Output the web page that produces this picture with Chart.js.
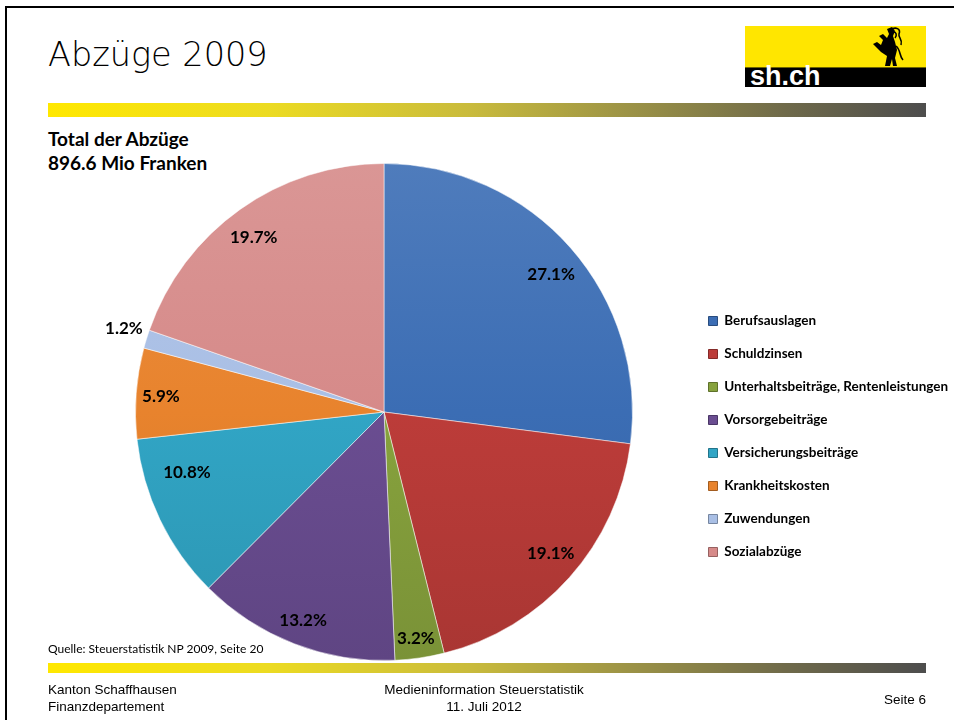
<!DOCTYPE html>
<html>
<head>
<meta charset="utf-8">
<script src="https://cdn.jsdelivr.net/npm/chart.js@4.4.1/dist/chart.umd.min.js"></script>
<style>
  body { margin: 0; width: 954px; height: 720px; position: relative; overflow: hidden; background: #fff; font-family: Lato, sans-serif; }
  #frame { position: absolute; left: 5px; top: 6px; width: 980px; height: 740px; border-top: 2px solid #000; border-left: 2px solid #000; }
  #chart { position: absolute; left: 0; top: 0; }
  .bar { position: absolute; left: 48px; width: 878px; background: linear-gradient(to right, #ffe800 0%, #ecdb22 25%, #c9bb3c 48%, #9c9346 66%, #6f6a4a 84%, #4d4d4d 100%); }
  #title { position: absolute; left: 48px; top: 38px; font: 300 33.5px/34px "DejaVu Sans", sans-serif; color: #000; }
  #logo { position: absolute; left: 745px; top: 26px; width: 181px; height: 61px; background: #ffe600; overflow: hidden; }
  #logo .band { position: absolute; left: 0; top: 41px; width: 181px; height: 20px; background: #000; border-top: 1px solid #6e6400; }
  #logo .txt { position: absolute; left: 5px; top: 36px; font: bold 27px/28px "Liberation Sans", Arial, sans-serif; color: #fff; }
  #logo svg { position: absolute; left: 118px; top: 0; }
  #total { position: absolute; left: 48px; top: 127px; font: bold 19px/24px Lato, sans-serif; color: #000; }
  #source { position: absolute; left: 48px; top: 642px; font: 12px/14px Lato, sans-serif; color: #000; }
  .foot { position: absolute; font: 13.5px/17px "Liberation Sans Narrow", "Liberation Sans", sans-serif; color: #000; }
</style>
</head>
<body>
<div id="frame"></div>
<div id="title">Abzüge 2009</div>
<div id="logo">
  <svg width="50" height="42" viewBox="0 0 50 42">
    <path d="M22 40 L24 30 L18 26 L14 22 L10 18 L14 16 L18 19 L20 14 L16 10 L20 8 L24 12 L26 8 L24 3 L29 1 L32 5 L30 10 L32 16 L34 24 L32 32 L34 40 L30 40 L29 33 L27 40 Z" fill="#000"/>
    <path d="M27 4 C33 0 38 3 36 8 C35 12 40 13 38 19 M29 6 C34 5 34 10 32 12 M33 20 C38 24 36 30 40 34" stroke="#000" stroke-width="1.6" fill="none"/>
  </svg>
  <div class="band"></div>
  <div class="txt">sh.ch</div>
</div>
<div class="bar" style="top:103px;height:14px"></div>
<div id="total">Total der Abzüge<br>896.6 Mio Franken</div>
<canvas id="chart" width="954" height="720"></canvas>
<div id="source">Quelle: Steuerstatistik NP 2009, Seite 20</div>
<div class="bar" style="top:663px;height:10px"></div>
<div class="foot" style="left:48px;top:681px">Kanton Schaffhausen<br>Finanzdepartement</div>
<div class="foot" style="left:334px;top:681px;width:300px;text-align:center">Medieninformation Steuerstatistik<br>11. Juli 2012</div>
<div class="foot" style="right:28px;top:691px">Seite 6</div>

<script>
// Abzüge 2009, shares in percent of 896.6 Mio Franken
const categories = [
  'Berufsauslagen',
  'Schuldzinsen',
  'Unterhaltsbeiträge, Rentenleistungen',
  'Vorsorgebeiträge',
  'Versicherungsbeiträge',
  'Krankheitskosten',
  'Zuwendungen',
  'Sozialabzüge'
];
const shares = [27.1, 19.1, 3.2, 13.2, 10.8, 5.9, 1.2, 19.7];

const sliceColors = ['#3b6db4', '#bc3c39', '#87a23d', '#6a4d91', '#31a5c5', '#e8832d', '#a9bfe5', '#d68a89'];

// where each percent label sits: fraction along the slice angle, fraction of the radius
const labelAngle = [0.52, 0.48, 0.52, 0.5, 0.72, 0.48, 0.69, 0.48];
const labelRadius = [0.87, 0.88, 0.92, 0.9, 0.83, 0.9, 1.1, 0.875];

function mix(hex, target, amt) {
  const n = parseInt(hex.slice(1), 16);
  const c = [(n >> 16) & 255, (n >> 8) & 255, n & 255].map(v => Math.round(v + (target - v) * amt));
  return 'rgb(' + c.join(',') + ')';
}

function sliceFill(c) {
  const base = sliceColors[c.dataIndex];
  const area = c.chart.chartArea;
  if (!area) return base;
  const cy = (area.top + area.bottom) / 2;
  const r = Math.min(area.width, area.height) / 2;
  const g = c.chart.ctx.createLinearGradient(0, cy - r, 0, cy + r);
  g.addColorStop(0, mix(base, 255, 0.1));
  g.addColorStop(0.5, base);
  g.addColorStop(1, mix(base, 0, 0.1));
  return g;
}

const pctLabels = {
  id: 'pctLabels',
  afterDatasetsDraw(chart) {
    const ctx = chart.ctx;
    const meta = chart.getDatasetMeta(0);
    ctx.save();
    ctx.font = 'bold 17px Lato, sans-serif';
    ctx.fillStyle = '#000';
    ctx.textAlign = 'center';
    ctx.textBaseline = 'middle';
    meta.data.forEach((arc, i) => {
      const p = arc.getProps(['x', 'y', 'startAngle', 'endAngle', 'outerRadius'], true);
      const a = p.startAngle + (p.endAngle - p.startAngle) * labelAngle[i];
      const r = p.outerRadius * labelRadius[i];
      ctx.fillText(shares[i].toFixed(1) + '%', p.x + Math.cos(a) * r, p.y + Math.sin(a) * r);
    });
    ctx.restore();
  }
};

// keep the legend column a fixed width so the pie stays where the slide has it
const legendWidth = {
  id: 'legendWidth',
  beforeLayout(chart) {
    const legend = chart.legend;
    if (!legend || legend._fixed) return;
    const fit = legend.fit;
    legend.fit = function () {
      fit.call(this);
      this.width = 265;
    };
    legend._fixed = true;
  }
};

const chart = new Chart(document.getElementById('chart'), {
  type: 'pie',
  data: {
    labels: categories,
    datasets: [{
      data: shares,
      backgroundColor: sliceFill,
      borderColor: 'rgba(255,255,255,0.5)',
      borderWidth: 1,
      hoverOffset: 0
    }]
  },
  options: {
    responsive: false,
    animation: false,
    layout: { padding: { top: 163, bottom: 59, left: 79, right: 0 } },
    plugins: {
      tooltip: { enabled: false },
      legend: {
        position: 'right',
        align: 'center',
        title: { display: true, text: '', font: { size: 10 }, padding: { top: 37, bottom: 0 } },
        labels: {
          boxWidth: 9,
          boxHeight: 9,
          padding: 19.5,
          color: '#000',
          font: { family: 'Lato, sans-serif', size: 13.5, weight: 'bold' },
          generateLabels(chart) {
            return categories.map((name, i) => ({
              text: name,
              fillStyle: sliceColors[i],
              strokeStyle: mix(sliceColors[i], 0, 0.3),
              fontColor: '#000',
              lineWidth: 1,
              hidden: false,
              index: i
            }));
          }
        }
      }
    }
  },
  plugins: [pctLabels, legendWidth]
});
</script>
</body>
</html>
